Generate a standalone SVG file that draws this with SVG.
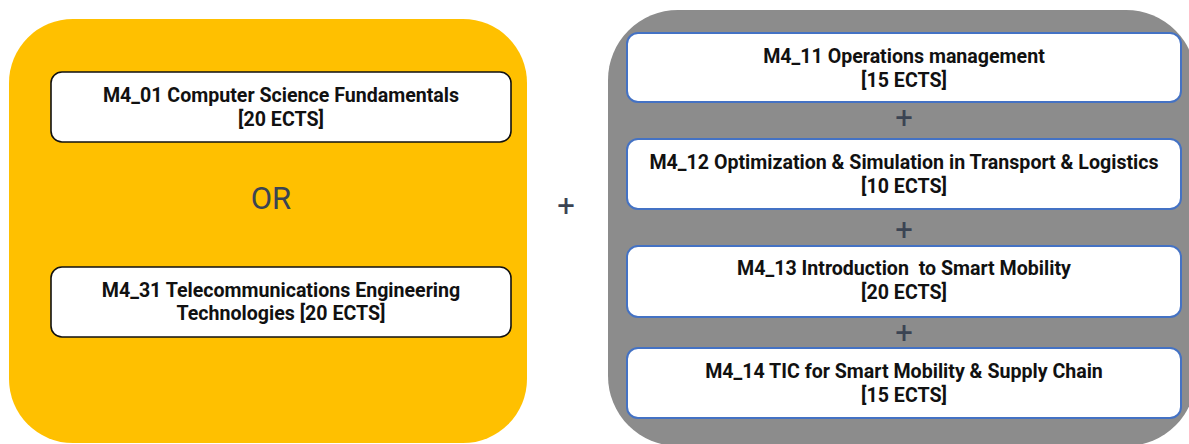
<svg xmlns="http://www.w3.org/2000/svg" width="1189" height="444" viewBox="0 0 1189 444">
  <style>
    .txt { font-family: Roboto, "Liberation Sans", sans-serif; font-weight: 700; font-size: 19.6px; fill: #111111; text-anchor: middle; white-space: pre; }
    .op { font-family: Roboto, "Liberation Sans", sans-serif; fill: #3b4453; text-anchor: middle; }
    .boxY { fill: #ffffff; stroke: #111111; stroke-width: 1.6; }
    .boxG { fill: #ffffff; stroke: #4472c4; stroke-width: 2; }
  </style>
  <rect width="1189" height="444" fill="#ffffff"/>

  <!-- Panels -->
  <g id="panel-choice">
    <rect x="9" y="19" width="518" height="424" rx="64" ry="64" fill="#ffc000"/>
  </g>
  <g id="panel-required">
    <rect x="608" y="10" width="588" height="436" rx="70" ry="70" fill="#8c8c8c"/>
  </g>

  <!-- Elective modules -->
  <g id="m4-01">
    <rect class="boxY" x="51" y="72" width="460" height="70" rx="11"/>
    <text class="txt" x="281" y="102">M4_01 Computer Science Fundamentals</text>
    <text class="txt" x="281" y="126">[20 ECTS]</text>
  </g>
  <g id="m4-31">
    <rect class="boxY" x="51" y="267" width="460" height="70" rx="11"/>
    <text class="txt" x="281" y="297">M4_31 Telecommunications Engineering</text>
    <text class="txt" x="281" y="320">Technologies [20 ECTS]</text>
  </g>

  <!-- Required modules -->
  <g id="m4-11">
    <rect class="boxG" x="627" y="33" width="554" height="69" rx="11"/>
    <text class="txt" x="904" y="63">M4_11 Operations management</text>
    <text class="txt" x="904" y="87">[15 ECTS]</text>
  </g>
  <g id="m4-12">
    <rect class="boxG" x="627" y="139" width="554" height="70" rx="11"/>
    <text class="txt" x="904" y="169">M4_12 Optimization &amp; Simulation in Transport &amp; Logistics</text>
    <text class="txt" x="904" y="193">[10 ECTS]</text>
  </g>
  <g id="m4-13">
    <rect class="boxG" x="627" y="246" width="554" height="71" rx="11"/>
    <text class="txt" x="904" y="275">M4_13 Introduction  to Smart Mobility</text>
    <text class="txt" x="904" y="299">[20 ECTS]</text>
  </g>
  <g id="m4-14">
    <rect class="boxG" x="627" y="348" width="554" height="70" rx="11"/>
    <text class="txt" x="904" y="378">M4_14 TIC for Smart Mobility &amp; Supply Chain</text>
    <text class="txt" x="904" y="402">[15 ECTS]</text>
  </g>

  <!-- Operators -->
  <g id="operators">
    <text class="op" x="271" y="209" font-size="31">OR</text>
    <text class="op" x="566" y="216" font-size="31">+</text>
    <text class="op" x="904" y="128" font-size="31">+</text>
    <text class="op" x="904" y="240" font-size="31">+</text>
    <text class="op" x="904" y="343" font-size="31">+</text>
  </g>
</svg>
